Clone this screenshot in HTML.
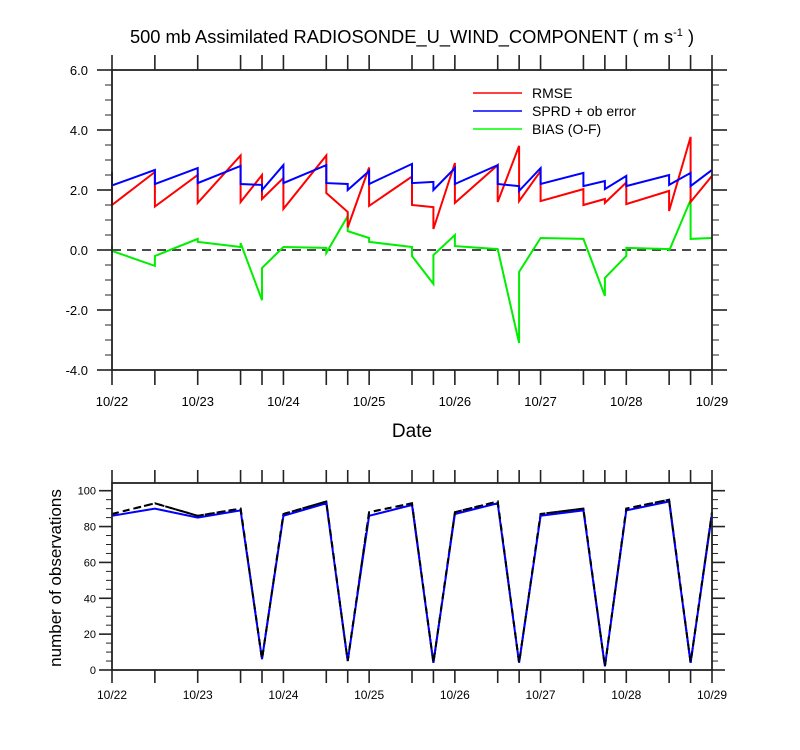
<!DOCTYPE html>
<html><head><meta charset="utf-8">
<style>
html,body{margin:0;padding:0;background:#fff;}
svg{display:block;font-family:"Liberation Sans",Arial,sans-serif;}
</style></head>
<body>
<svg id="chart" width="800" height="750" viewBox="0 0 800 750">
<text x="412" y="43" text-anchor="middle" font-size="18.3" fill="#000">500 mb Assimilated RADIOSONDE_U_WIND_COMPONENT ( m s<tspan dy="-7" font-size="11">-1</tspan><tspan dy="7"> )</tspan></text>
<text x="412" y="437" text-anchor="middle" font-size="19" fill="#000">Date</text>
<text transform="translate(61,578) rotate(-90)" text-anchor="middle" font-size="17" fill="#000">number of observations</text>
<g>
<line x1="473" y1="93" x2="522" y2="93" stroke="#ff0000" stroke-width="1.5"/>
<text x="532" y="98" font-size="14">RMSE</text>
<line x1="473" y1="111" x2="522" y2="111" stroke="#0000ff" stroke-width="1.5"/>
<text x="532" y="116" font-size="14">SPRD + ob error</text>
<line x1="473" y1="129" x2="522" y2="129" stroke="#00ff00" stroke-width="1.5"/>
<text x="532" y="134" font-size="14">BIAS (O-F)</text>
</g>
</svg>
<script>
// shared time axis (days since 10/22 00Z); duplicate times mark jumps
const tickTimes = [0,0.5,1,1.5,1.75,2,2.5,2.75,3,3.5,3.75,4,4.5,4.75,5,5.5,5.75,6,6.5,6.75,7];
const dateLabels = ['10/22','10/23','10/24','10/25','10/26','10/27','10/28','10/29'];
const dateTimes = [0,1,2,3,4,5,6,7];
const topYTicks = [-4,-2,0,2,4,6];
const topYLabels = ['-4.0','-2.0','0.0','2.0','4.0','6.0'];
const botYTicks = [0,20,40,60,80,100];

const rmseT = [0,0,0.5,0.5,1,1,1.5,1.5,1.75,1.75,2,2,2.5,2.5,2.75,2.75,3,3,3.5,3.5,3.75,3.75,4,4,4.5,4.5,4.75,4.75,5,5,5.5,5.5,5.75,5.75,6,6,6.5,6.5,6.75,6.75,7];
const rmseV = [2.1,1.5,2.6,1.45,2.5,1.57,3.15,1.6,2.5,1.7,2.4,1.37,3.15,1.9,1.27,0.75,2.75,1.47,2.45,1.5,1.43,0.7,2.9,1.57,2.83,1.6,3.47,1.63,2.63,1.63,2.03,1.5,1.7,1.57,2.25,1.53,1.97,1.3,3.77,1.6,2.47];
const sprdT = rmseT;
const sprdV = [2.6,2.15,2.67,2.2,2.73,2.23,2.8,2.2,2.17,2.0,2.83,2.23,2.83,2.23,2.2,2.0,2.63,2.2,2.87,2.23,2.27,2.0,2.73,2.2,2.83,2.2,2.13,1.97,2.73,2.2,2.57,2.13,2.3,2.03,2.47,2.13,2.5,2.17,2.57,2.13,2.67];
const biasT = rmseT;
const biasV = [0.15,-0.03,-0.53,-0.2,0.37,0.27,0.1,0.23,-1.67,-0.6,0.1,0.1,0.07,-0.1,1.13,0.63,0.4,0.27,0.1,-0.2,-1.13,-0.17,0.5,0.13,0.03,0.03,-3.1,-0.73,0.4,0.4,0.37,0.37,-1.53,-0.93,-0.2,0.07,0.03,-0.03,1.67,0.37,0.4];

const obsT = tickTimes;
const obsAssim = [86,90,85,89,6,86,93,5,86,92,4,87,93,4,86,89,2,89,94,4,87];
const obsTotal = [87,93,86,90,6,87,94,5,88,93,4,88,94,4,87,90,2,90,95,4,88];

const svg = document.getElementById('chart');
const NS = 'http://www.w3.org/2000/svg';
function mk(tag, attrs){const e=document.createElementNS(NS,tag);for(const k in attrs)e.setAttribute(k,attrs[k]);svg.appendChild(e);return e;}

const X0=112, X1=712;
function xs(t){return X0+(X1-X0)*t/7;}
const T={top:70,bot:370,min:-4,max:6};
function yTop(v){return T.bot-(v-T.min)*(T.bot-T.top)/(T.max-T.min);}
const B={top:483,bot:670};
function yBot(v){return B.bot-v*(B.bot-490.7)/100;}

function poly(ts, vs, yf, color, dash, name){
  const pts = ts.map((t,i)=>xs(t).toFixed(1)+','+yf(vs[i]).toFixed(1)).join(' ');
  const p = mk('polyline',{points:pts,fill:'none',stroke:color,'stroke-width':2,'stroke-linejoin':'miter'});
  if(dash) p.setAttribute('stroke-dasharray',dash);
  
  
}

const zl = mk('line',{x1:X0,x2:X1,y1:yTop(0),y2:yTop(0),stroke:'#333','stroke-width':1.8,'stroke-dasharray':'9,6'});


poly(biasT,biasV,yTop,'#00ee00',null,'bias-line');
poly(rmseT,rmseV,yTop,'#ff0000',null,'rmse-line');
poly(sprdT,sprdV,yTop,'#0000ff',null,'sprd-line');

function frame(top,bot,name){
  const r = mk('rect',{x:X0,y:top,width:X1-X0,height:bot-top,fill:'none',stroke:'#222','stroke-width':1.8});
  
  
}
frame(T.top,T.bot,'top-plot-frame');
tickTimes.forEach(t=>{
  const a = mk('line',{x1:xs(t),x2:xs(t),y1:T.bot,y2:T.bot+15,stroke:'#222','stroke-width':1.6});
  
  
  const b = mk('line',{x1:xs(t),x2:xs(t),y1:T.top,y2:T.top-15,stroke:'#222','stroke-width':1.6});
  
  
});
for(let v=T.min; v<=T.max+1e-9; v+=0.5){
  const major = Math.abs(v/2-Math.round(v/2))<1e-6;
  const L = major?15:7;
  const a = mk('line',{x1:X0-L,x2:X0,y1:yTop(v),y2:yTop(v),stroke:'#222','stroke-width':major?1.6:1});
  
  
  const b = mk('line',{x1:X1,x2:X1+L,y1:yTop(v),y2:yTop(v),stroke:'#222','stroke-width':major?1.6:1});
  
  
}
topYTicks.forEach((v,i)=>{
  const t = mk('text',{x:88,y:yTop(v)+5,'text-anchor':'end','font-size':13});
  t.textContent = topYLabels[i];
  
  
});
dateTimes.forEach((d,i)=>{
  const t = mk('text',{x:xs(d),y:406,'text-anchor':'middle','font-size':13});
  t.textContent = dateLabels[i];
  
  
});

poly(obsT,obsTotal,yBot,'#000',"7,4",'obs-total-line');
poly(obsT,obsAssim,yBot,'#0000ff',null,'obs-assimilated-line');
poly(obsT,obsTotal,yBot,'#000',"6,6",'obs-total-line-overlay');
frame(B.top,B.bot,'bottom-plot-frame');
tickTimes.forEach(t=>{
  const a = mk('line',{x1:xs(t),x2:xs(t),y1:B.bot,y2:B.bot+13,stroke:'#222','stroke-width':1.6});
  
  
  const b = mk('line',{x1:xs(t),x2:xs(t),y1:B.top,y2:B.top-13,stroke:'#222','stroke-width':1.6});
  
  
});
for(let v=0; v<=100; v+=5){
  const major = v%20===0;
  const L = major?13:6;
  const a = mk('line',{x1:X0-L,x2:X0,y1:yBot(v),y2:yBot(v),stroke:'#222','stroke-width':major?1.6:1});
  
  
  const b = mk('line',{x1:X1,x2:X1+L,y1:yBot(v),y2:yBot(v),stroke:'#222','stroke-width':major?1.6:1});
  
  
}
botYTicks.forEach(v=>{
  const t = mk('text',{x:96,y:yBot(v)+4,'text-anchor':'end','font-size':11});
  t.textContent = String(v);
  
  
});
dateTimes.forEach((d,i)=>{
  const t = mk('text',{x:xs(d),y:699,'text-anchor':'middle','font-size':12});
  t.textContent = dateLabels[i];
  
  
});
</script>
</body></html>
